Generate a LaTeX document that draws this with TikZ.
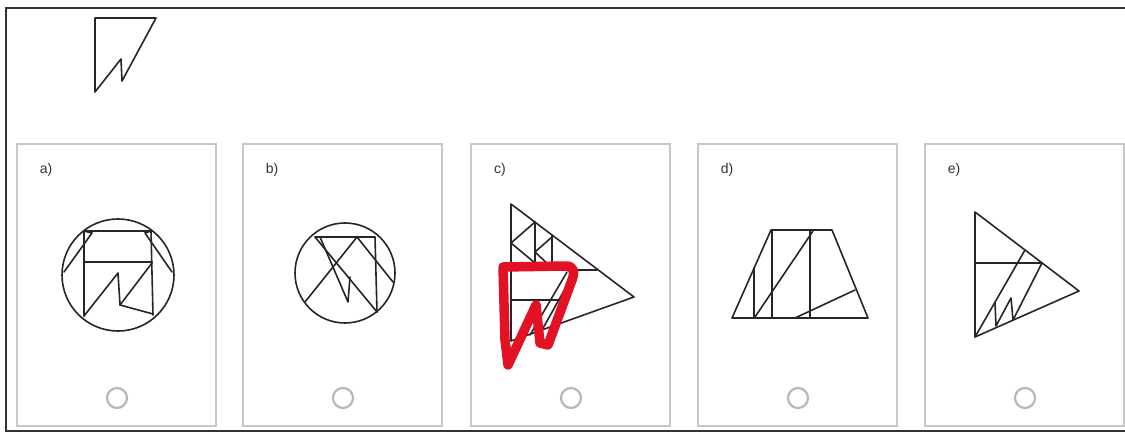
\documentclass[tikz,border=0pt]{standalone}
\usepackage{fontspec}
\setmainfont{Liberation Sans}
\begin{document}
\begin{tikzpicture}[x=1pt,y=-1pt,
  fig/.style={draw=black!85,line width=1.6pt,line join=round,line cap=round},
  panel/.style={draw=black!22,line width=1.5pt},
  radio/.style={draw=black!28,line width=2.2pt,circle,minimum size=20pt,inner sep=0pt},
  lbl/.style={text=black!80,font=\fontsize{14}{14}\selectfont,inner sep=0pt},
  scrib/.style={draw={rgb,255:red,226;green,18;blue,36},line width=9.5pt,line join=round,line cap=round}]
\useasboundingbox (0,0) rectangle (1125,433);
\fill[white] (0,0) rectangle (1125,433);
% outer frame (open on the right)
\draw[black!80,line width=2.2pt] (1125,8) -- (6,8) -- (6,431) -- (1125,431);
% target figure
\draw[fig] (95,18) -- (156,18) -- (122,81) -- (121,59) -- (95,92) -- cycle;
% panels, labels, radio buttons
\foreach \x/\l [count=\i] in {17/a,243/b,471/c,698/d,925/e}{
  \draw[panel] (\x,144) rectangle ++(199,282);
  \node[lbl] (lab\l) at (\x+29,170) {\l)};
  \node[radio] (rad\l) at (\x+100,398) {};
}
% ---- a
\draw[fig] (118,275) circle[radius=56];
\draw[fig] (84,231) -- (152,231);
\draw[fig] (84,231) -- (84,316);
\draw[fig] (151,231) -- (153,315);
\draw[fig] (84,262) -- (152,262);
\draw[fig] (84,316) -- (118,273) -- (120,305) -- (152,263);
\draw[fig] (120,305) -- (153,314);
\draw[fig] (64,272) -- (92,233) -- (84,231);
\draw[fig] (172,272) -- (145,233) -- (151,231);
% ---- b
\draw[fig] (345,273) circle[radius=50];
\draw[fig] (315,237) -- (375,237) -- (377,312);
\draw[fig] (315,237) -- (377,312);
\draw[fig] (320,237) -- (348,302) -- (350,277);
\draw[fig] (305,302) -- (357,237) -- (393,282);
% ---- c
\draw[fig] (511,204) -- (634,297) -- (511,341) -- cycle;
\draw[fig] (535,222) -- (535,270);
\draw[fig] (552,235) -- (552,270);
\draw[fig] (511,270) -- (597,270);
\draw[fig] (535,222) -- (511,243) -- (535,263);
\draw[fig] (552,237) -- (535,252) -- (552,268);
\draw[fig] (511,300) -- (568,300);
\draw[fig] (530,335) -- (567,272);
\draw[fig] (542,330) -- (570,280);
\draw[scrib] (503,267) -- (566,266) .. controls (574,266) and (575,272) .. (572,280)
  -- (548,345) -- (540,343) -- (536,305) -- (508,365) -- (505,340) -- cycle;
% ---- d
\draw[fig] (771,230) -- (832,230) -- (868,318) -- (732,318) -- cycle;
\draw[fig] (772,230) -- (772,318);
\draw[fig] (810,230) -- (810,318);
\draw[fig] (754,268) -- (754,318);
\draw[fig] (755,317) -- (813,231);
\draw[fig] (795,318) -- (855,290);
% ---- e
\draw[fig] (975,212) -- (1079,291) -- (975,337) -- cycle;
\draw[fig] (975,263) -- (1042,263);
\draw[fig] (975,337) -- (1025,250);
\draw[fig] (995,303) -- (996,326) -- (1011,298) -- (1013,320) -- (1042,263);
\end{tikzpicture}
\end{document}
